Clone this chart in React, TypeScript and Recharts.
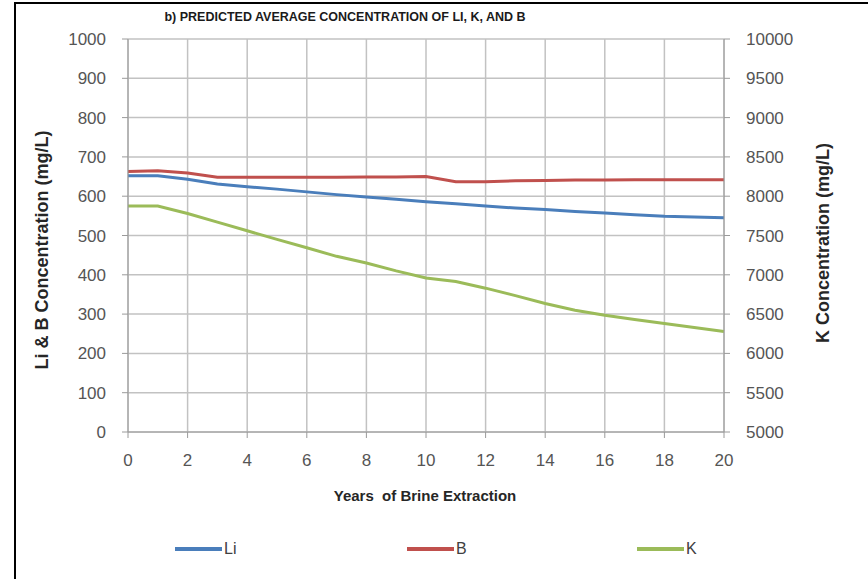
import { LineChart, Line, XAxis, YAxis, CartesianGrid } from "recharts";

const YEARS = [0, 1, 2, 3, 4, 5, 6, 7, 8, 9, 10, 11, 12, 13, 14, 15, 16, 17, 18, 19, 20];
const LI = [652, 652, 643, 631, 624, 618, 611, 604, 598, 592, 586, 581, 575, 570, 566, 561, 557, 553, 549, 547, 545];
const B = [663, 665, 659, 648, 648, 648, 648, 648, 649, 649, 650, 637, 637, 639, 640, 641, 641, 642, 642, 642, 642];
const K = [7875, 7875, 7780, 7670, 7560, 7450, 7345, 7235, 7150, 7050, 6960, 6915, 6830, 6735, 6635, 6550, 6485, 6430, 6380, 6330, 6280];

const X_TICKS = [0, 2, 4, 6, 8, 10, 12, 14, 16, 18, 20];
const LEFT_TICKS = [0, 100, 200, 300, 400, 500, 600, 700, 800, 900, 1000];
const RIGHT_TICKS = [5000, 5500, 6000, 6500, 7000, 7500, 8000, 8500, 9000, 9500, 10000];

const SERIES = [
  { key: "li", name: "Li", color: "#4a7ebb", axis: "left", x: 175 },
  { key: "b", name: "B", color: "#c0504d", axis: "left", x: 407 },
  { key: "k", name: "K", color: "#9bbb59", axis: "right", x: 637 },
];

const data = YEARS.map((y, i) => ({ year: y, li: LI[i], b: B[i], k: K[i] }));

const font = "Liberation Sans, Arial, sans-serif";
const tickStyle = { fontSize: 17, fill: "#555", fontFamily: font };
const axisTitle = { fontFamily: font, fontWeight: "bold" as const, fontSize: 18, color: "#262626", whiteSpace: "nowrap" as const };

export default function App() {
  return (
    <div style={{ position: "fixed", left: 0, top: 0, width: 868, height: 579, background: "#fff", overflow: "hidden" }}>
      <div style={{ position: "absolute", left: 14, top: 2, right: -10, bottom: -10, borderLeft: "2px solid #000", borderTop: "2px solid #000" }} />
      <div style={{ position: "absolute", left: 0, top: 10, width: 690, textAlign: "center", fontFamily: font, fontWeight: "bold", fontSize: 12.5, color: "#1a1a1a" }}>
        b) PREDICTED AVERAGE CONCENTRATION OF LI, K, AND B
      </div>
      <LineChart width={868} height={579} data={data} margin={{ top: 39, left: 68, right: 84, bottom: 117 }}>
        <CartesianGrid yAxisId="left" stroke="#c2c2c2" strokeWidth={1.5} />
        <XAxis
          dataKey="year"
          type="number"
          domain={[0, 20]}
          ticks={X_TICKS}
          height={30}
          tick={tickStyle}
          tickSize={6}
          tickMargin={16}
          stroke="#9a9a9a"
        />
        <YAxis
          yAxisId="left"
          domain={[0, 1000]}
          ticks={LEFT_TICKS}
          width={60}
          tick={tickStyle}
          tickSize={6}
          tickMargin={16}
          stroke="#9a9a9a"
        />
        <YAxis
          yAxisId="right"
          orientation="right"
          domain={[5000, 10000]}
          ticks={RIGHT_TICKS}
          width={60}
          tick={tickStyle}
          tickSize={6}
          tickMargin={16}
          stroke="#9a9a9a"
        />
        {SERIES.map((s) => (
          <Line
            key={s.key}
            yAxisId={s.axis}
            dataKey={s.key}
            name={s.name}
            stroke={s.color}
            strokeWidth={3}
            dot={false}
            type="linear"
            isAnimationActive={false}
          />
        ))}
      </LineChart>
      <div style={{ ...axisTitle, position: "absolute", left: 42, top: 250, transform: "translate(-50%, -50%) rotate(-90deg)" }}>
        Li  &amp; B Concentration (mg/L)
      </div>
      <div style={{ ...axisTitle, position: "absolute", left: 823, top: 243, transform: "translate(-50%, -50%) rotate(-90deg)" }}>
        K Concentration (mg/L)
      </div>
      <div style={{ ...axisTitle, fontSize: 15, position: "absolute", left: 425, top: 495, transform: "translate(-50%, -50%)" }}>
        Years&nbsp; of Brine Extraction
      </div>
      {SERIES.map((s) => (
        <div key={s.key} style={{ position: "absolute", left: s.x, top: 540, display: "flex", alignItems: "center", fontFamily: font, fontSize: 16, color: "#404040" }}>
          <span style={{ display: "inline-block", width: 47, height: 4, background: s.color, marginRight: 2 }} />
          {s.name}
        </div>
      ))}
    </div>
  );
}
